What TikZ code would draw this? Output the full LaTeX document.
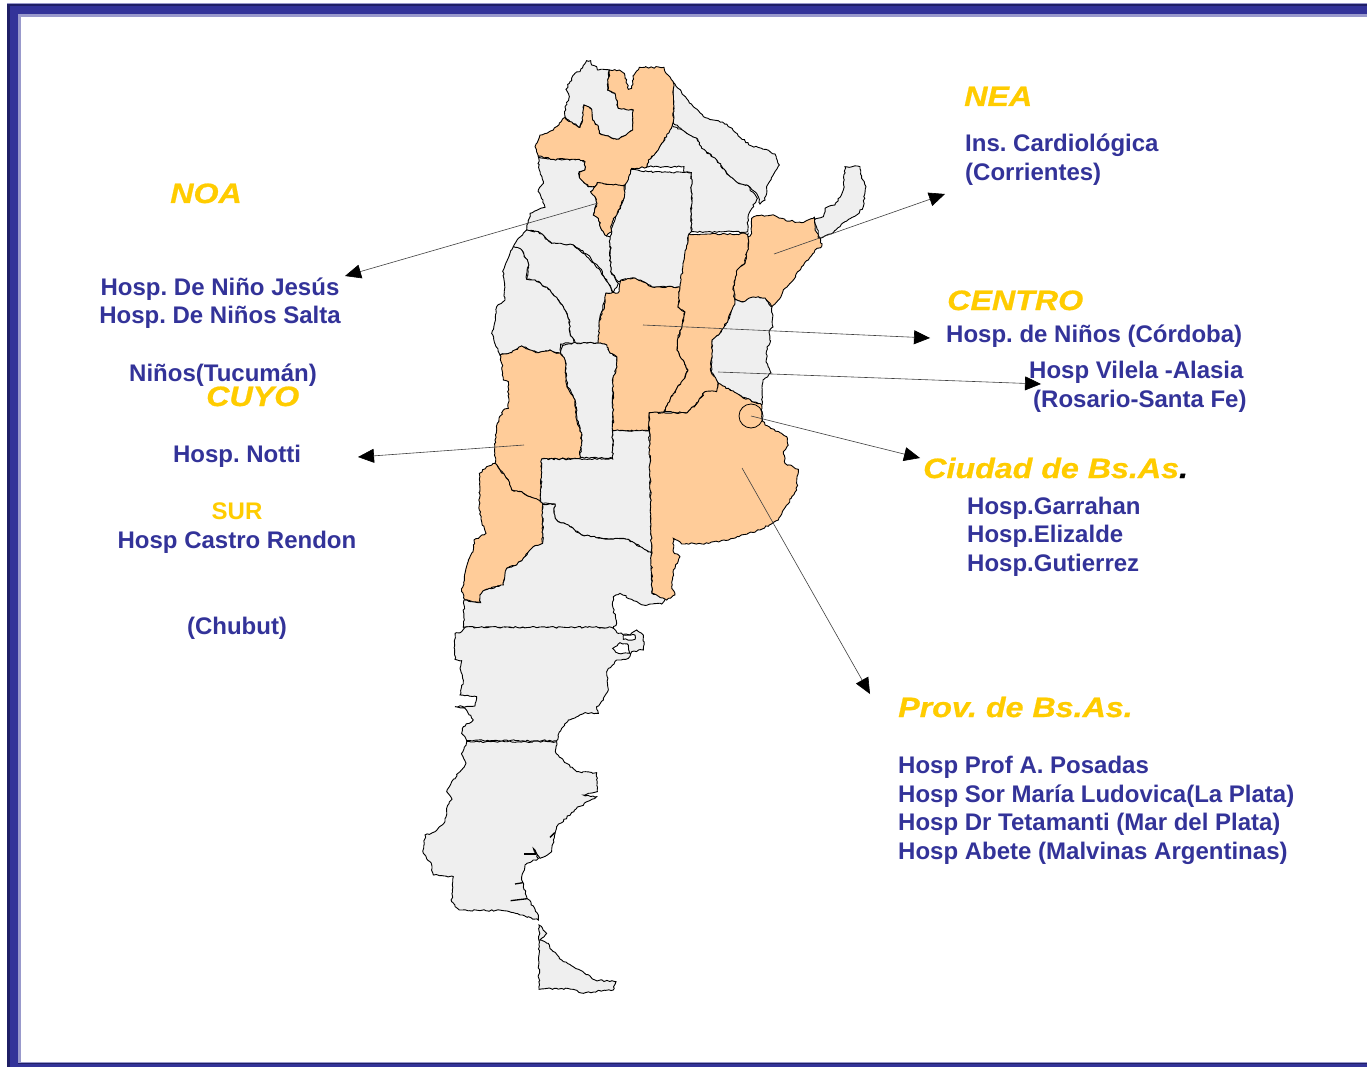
\documentclass[tikz,border=0pt]{standalone}
\usepackage{fontspec}
\setmainfont{Liberation Sans}
\newfontfamily\headfont[FakeBold=0.7]{Liberation Sans Bold Italic}
\usetikzlibrary{arrows.meta,decorations.pathmorphing}
\definecolor{bandblue}{HTML}{333399}
\definecolor{banddark}{HTML}{1F1F66}
\definecolor{bandlight}{HTML}{9999CC}
\definecolor{gold}{HTML}{FFCC00}
\definecolor{provgray}{HTML}{EFEFEF}
\definecolor{provorange}{HTML}{FFCC99}
\pgfmathsetseed{7}
\frenchspacing
\tikzset{
  prov/.style={draw=black,line width=0.9pt,line join=miter,
    decorate,decoration={random steps,segment length=2.4pt,amplitude=0.85pt}},
  gr/.style={prov,fill=provgray},
  og/.style={prov,fill=provorange},
  hole/.style={prov,fill=white},
  nick/.style={draw=black,line width=1.3pt},
  lead/.style={draw=black!75,line width=0.6pt,-{Triangle[length=16pt,width=14pt,black]}},
  blue/.style={text=bandblue,font=\fontsize{24}{28}\selectfont\bfseries,inner sep=0pt},
  bl/.style={blue,anchor=base west},
  bc/.style={blue,anchor=base},
  head/.style={text=gold,font=\fontsize{28}{32}\selectfont\headfont,inner sep=0pt,anchor=base west,xscale=1.15},
}
\begin{document}
\begin{tikzpicture}[x=1pt,y=-1pt]
\useasboundingbox (0,0) rectangle (1367,1067);
\fill[white] (0,0) rectangle (1367,1067);
% frame
\fill[bandlight] (7,3) rectangle (1367,1067);
\fill[banddark] (7,4) rectangle (1367,1067);
\fill[bandblue] (10,6) rectangle (1367,1067);
\fill[bandlight] (18,14) rectangle (1367,1063);
\fill[white] (21,17) rectangle (1367,1062);
\fill[banddark] (18,1063) rectangle (1367,1064);
% northern provinces, traced at 3x around (480,50)
\begin{scope}[shift={(480,50)},scale=1/3]
\path[gr] (580,97)--(610,135)--(640,170)--(670,200)--(700,210)--(740,222)--(780,262)--(815,288)--(845,295)--(885,312)--(898,345)--(885,365)--(860,415)--(855,450)--(840,462)--(830,430)--(800,405)--(775,400)--(745,375)--(710,330)--(665,295)--(650,265)--(620,250)--(580,220)--cycle;
\path[gr] (570,222)--(620,250)--(650,265)--(665,295)--(710,330)--(745,375)--(775,400)--(800,405)--(832,445)--(805,495)--(803,545)--(634,545)--(634,368)--(612,368)--(612,350)--(500,350)--(505,330)--(530,305)--(550,275)--cycle;
\path[gr] (455,358)--(505,365)--(634,368)--(634,545)--(627,552)--(620,590)--(612,650)--(605,712)--(515,710)--(490,695)--(465,685)--(425,690)--(415,695)--(392,665)--(390,560)--(400,520)--(430,450)--(435,405)--(448,375)--cycle;
\path[gr] (175,320)--(220,328)--(298,328)--(315,335)--(315,360)--(298,365)--(298,380)--(325,410)--(345,410)--(332,425)--(345,440)--(350,460)--(340,495)--(355,505)--(365,540)--(380,558)--(390,560)--(392,665)--(415,700)--(400,728)--(360,655)--(320,612)--(280,585)--(215,580)--(175,545)--(140,540)--(150,490)--(195,472)--(175,420)--(190,400)--(178,360)--cycle;
\path[gr] (140,540)--(175,545)--(215,580)--(280,585)--(320,620)--(360,660)--(400,728)--(378,730)--(360,800)--(358,880)--(285,880)--(285,875)--(270,850)--(268,810)--(250,770)--(210,720)--(165,690)--(140,688)--(145,640)--(125,600)--(100,590)--(115,565)--cycle;
\path[gr] (100,590)--(125,600)--(145,640)--(140,688)--(165,690)--(210,720)--(250,770)--(268,810)--(270,850)--(285,880)--(242,882)--(242,912)--(210,900)--(175,908)--(150,900)--(125,888)--(95,908)--(60,915)--(35,850)--(45,815)--(50,770)--(75,750)--(70,660)--(90,610)--cycle;
\path[gr] (1003,510)--(1030,500)--(1035,475)--(1065,465)--(1090,420)--(1095,350)--(1140,350)--(1145,385)--(1158,410)--(1150,470)--(1130,495)--(1095,515)--(1080,530)--(1060,548)--(1020,565)--(1005,520)--cycle;
\path[gr] (320,32)--(332,32)--(335,45)--(350,50)--(355,60)--(388,60)--(383,120)--(405,130)--(415,175)--(460,180)--(458,240)--(432,258)--(410,268)--(385,258)--(358,250)--(355,230)--(338,210)--(335,178)--(312,165)--(308,210)--(300,232)--(270,215)--(255,200)--(255,170)--(268,140)--(258,118)--(270,95)--(285,70)--(300,65)--cycle;
\path[og] (388,60)--(418,60)--(433,70)--(445,118)--(455,115)--(462,75)--(478,52)--(552,52)--(555,65)--(580,97)--(580,215)--(570,240)--(550,275)--(530,305)--(505,330)--(500,352)--(455,355)--(448,375)--(435,405)--(400,405)--(352,398)--(345,410)--(325,410)--(298,380)--(298,365)--(315,360)--(315,335)--(298,328)--(220,328)--(175,318)--(165,290)--(180,255)--(220,240)--(255,202)--(270,215)--(300,232)--(308,210)--(312,165)--(335,178)--(338,210)--(355,230)--(358,250)--(385,258)--(410,268)--(432,258)--(458,240)--(460,180)--(415,175)--(405,130)--(383,120)--cycle;
\path[og] (352,398)--(400,405)--(435,405)--(430,450)--(415,480)--(400,510)--(392,530)--(395,545)--(380,558)--(365,540)--(355,505)--(340,495)--(350,460)--(345,440)--(332,425)--(345,410)--cycle;
\path[og] (815,505)--(830,497)--(885,497)--(915,510)--(965,518)--(1003,502)--(1005,540)--(1022,570)--(1025,590)--(1005,600)--(985,630)--(965,650)--(940,690)--(915,715)--(895,750)--(875,770)--(855,745)--(820,742)--(790,755)--(765,748)--(760,710)--(770,660)--(795,640)--(805,590)--(805,560)--(815,550)--cycle;
\end{scope}
% central provinces, traced in reference pixels
\path[gr] (735,299)--(743,302)--(753,297)--(765,298)--(772,307)--(773,327)--(769,332)--(770,343)--(767,347)--(766,362)--(771,373)--(763,380)--(762,405)--(742,397)--(720,385)--(711,372)--(712,340)--(720,333)--(728,320)--cycle;
\path[gr] (562,345)--(573,343)--(598,343)--(607,345)--(610,353)--(617,357)--(617,367)--(613,378)--(613,458)--(580,458)--(582,435)--(577,420)--(575,400)--(567,385)--(565,360)--(561,354)--cycle;
\path[og] (606,293)--(618,293)--(621,280)--(635,278)--(643,282)--(652,287)--(680,287)--(678,307)--(685,312)--(682,327)--(678,338)--(677,350)--(683,360)--(688,370)--(685,378)--(677,388)--(670,400)--(664,412)--(649,413)--(649,431)--(613,431)--(613,378)--(617,367)--(617,357)--(610,353)--(607,345)--(598,343)--(599,323)--(605,303)--cycle;
\path[og] (689,234)--(748,234)--(748,247)--(745,263)--(737,270)--(733,287)--(735,302)--(728,320)--(720,333)--(712,340)--(711,372)--(718,383)--(717,392)--(705,392)--(698,402)--(687,413)--(664,412)--(670,400)--(677,388)--(685,378)--(688,370)--(683,360)--(677,350)--(678,338)--(682,327)--(685,312)--(678,307)--(680,287)--(684,260)--cycle;
\begin{scope}[shift={(450,330)},scale=1/3]
\path[og] (150,75)--(185,68)--(215,48)--(240,60)--(265,68)--(300,60)--(332,72)--(345,90)--(350,165)--(375,210)--(380,270)--(395,315)--(390,385)--(275,387)--(272,515)--(240,500)--(215,485)--(185,480)--(175,450)--(150,420)--(135,400)--(135,330)--(142,280)--(160,240)--(175,235)--(175,155)--(160,150)--(155,100)--cycle;
\path[og] (135,400)--(150,420)--(175,450)--(185,480)--(215,485)--(240,500)--(272,515)--(278,520)--(278,640)--(250,650)--(225,680)--(200,705)--(170,715)--(160,765)--(105,780)--(90,795)--(92,818)--(45,810)--(35,785)--(45,730)--(55,690)--(70,660)--(72,630)--(108,610)--(95,575)--(88,540)--(88,430)--(110,410)--cycle;
\path[gr] (275,387)--(488,387)--(488,302)--(598,302)--(605,670)--(570,650)--(535,628)--(455,625)--(395,615)--(360,590)--(320,570)--(312,550)--(315,522)--(278,520)--(272,515)--cycle;
\path[gr] (278,522)--(315,522)--(312,550)--(320,570)--(360,590)--(395,615)--(455,625)--(535,628)--(570,650)--(605,670)--(606,790)--(650,800)--(635,822)--(580,825)--(545,808)--(510,790)--(490,800)--(487,825)--(500,880)--(490,895)--(40,892)--(42,810)--(92,818)--(90,795)--(105,780)--(160,765)--(170,715)--(200,705)--(225,680)--(250,650)--(278,640)--cycle;
\path[og] (598,248)--(642,248)--(712,248)--(745,215)--(765,185)--(800,185)--(805,160)--(875,200)--(935,225)--(935,260)--(945,285)--(1010,320)--(1015,345)--(1000,365)--(1005,400)--(1045,418)--(1040,480)--(1000,540)--(985,570)--(930,600)--(850,625)--(775,640)--(695,642)--(670,625)--(670,665)--(690,680)--(670,720)--(665,770)--(675,795)--(650,810)--(606,790)--(598,302)--cycle;
\end{scope}
% southern provinces, traced at 3x around (410,600)
\begin{scope}[shift={(410,600)},scale=1/3]
\path[gr] (165,82)--(605,82)--(625,100)--(660,105)--(680,90)--(700,105)--(700,150)--(665,155)--(655,175)--(620,180)--(590,215)--(595,270)--(580,300)--(560,320)--(565,340)--(525,338)--(475,360)--(455,385)--(440,422)--(170,422)--(155,400)--(160,380)--(190,360)--(165,325)--(135,320)--(195,318)--(200,290)--(150,285)--(160,240)--(150,205)--(155,182)--(135,178)--(135,100)--(155,95)--cycle;
\path[hole] (608,145)--(630,128)--(655,135)--(660,160)--(625,160)--cycle;
\path[hole] (640,105)--(675,105)--(675,118)--(640,118)--cycle;
\path[gr] (170,425)--(440,425)--(438,460)--(470,490)--(500,515)--(560,518)--(562,575)--(520,585)--(560,590)--(500,625)--(440,680)--(430,720)--(425,755)--(390,775)--(370,745)--(385,775)--(345,795)--(335,840)--(350,890)--(385,945)--(385,960)--(330,945)--(280,932)--(148,930)--(125,905)--(130,830)--(70,825)--(60,785)--(40,760)--(45,705)--(75,695)--(105,665)--(110,625)--(125,595)--(110,575)--(125,545)--(150,515)--(168,490)--(155,460)--cycle;
\path[gr] (387,975)--(410,1000)--(390,1020)--(415,1030)--(425,1050)--(460,1085)--(510,1110)--(555,1140)--(618,1145)--(610,1170)--(570,1172)--(520,1180)--(490,1168)--(440,1165)--(387,1168)--cycle;
\path[nick] (343,762)--(378,762);
\path[nick] (315,852)--(339,848);
\path[nick] (302,902)--(352,896);
\path[nick] (420,712)--(434,698);
\end{scope}
% circle over the capital
\node (caba) at (751,416) [circle,draw=black,line width=0.8pt,minimum size=24pt,inner sep=0pt] {};
% connector ends
\coordinate (noaFrom) at (598,203);   \coordinate (noaTo) at (345,276);
\coordinate (neaFrom) at (774,254);   \coordinate (neaTo) at (945,194);
\coordinate (cenFrom) at (643,325);   \coordinate (cenTo) at (930,338);
\coordinate (vilFrom) at (718,372);   \coordinate (vilTo) at (1041,384);
\coordinate (ciuFrom) at (751,416);   \coordinate (ciuTo) at (920,458);
\coordinate (proFrom) at (742,468);   \coordinate (proTo) at (870,694);
\coordinate (cuyFrom) at (524,445);   \coordinate (cuyTo) at (358,457);
\draw[lead] (noaFrom) -- (noaTo);
\draw[lead] (neaFrom) -- (neaTo);
\draw[lead] (cenFrom) -- (cenTo);
\draw[lead] (vilFrom) -- (vilTo);
\draw[lead] (ciuFrom) -- (ciuTo);
\draw[lead] (proFrom) -- (proTo);
\draw[lead] (cuyFrom) -- (cuyTo);
% left labels
\node[head] (noa) at (170,203) {NOA};
\node[bc] (t1) at (220,295) {Hosp. De Niño Jesús};
\node[bc] (t2) at (220,323) {Hosp. De Niños Salta};
\node[bc] (t3) at (223,381) {Niños(Tucumán)};
\node[head] (cuyo) at (206,406) {CUYO};
\node[bc] (t4) at (237,462) {Hosp. Notti};
\node[bc,text=gold] (sur) at (237,519) {SUR};
\node[bc] (t5) at (237,548) {Hosp Castro Rendon};
\node[bc] (t6) at (237,634) {(Chubut)};
% right labels
\node[head] (nea) at (964,106) {NEA};
\node[bl] (t7) at (965,152) {Ins. Cardiológica};
\node[bl] (t8) at (965,181) {(Corrientes)};
\node[head] (centro) at (947,310) {CENTRO};
\node[bl] (t9) at (946,342) {Hosp. de Niños (Córdoba)};
\node[bl] (t10) at (1029,378) {Hosp Vilela -Alasia};
\node[bl] (t11) at (1033,407) {(Rosario-Santa Fe)};
\node[head] (ciudad) at (923,478) {Ciudad de Bs.As\textcolor{black}{.}};
\node[bl] (t12) at (967,514) {Hosp.Garrahan};
\node[bl] (t13) at (967,542) {Hosp.Elizalde};
\node[bl] (t14) at (967,571) {Hosp.Gutierrez};
\node[head] (prov) at (898,717) {Prov. de Bs.As.};
\node[bl] (t15) at (898,773) {Hosp Prof A. Posadas};
\node[bl] (t16) at (898,802) {Hosp Sor María Ludovica(La Plata)};
\node[bl] (t17) at (898,830) {Hosp Dr Tetamanti (Mar del Plata)};
\node[bl] (t18) at (898,859) {Hosp Abete (Malvinas Argentinas)};
\end{tikzpicture}
\end{document}
